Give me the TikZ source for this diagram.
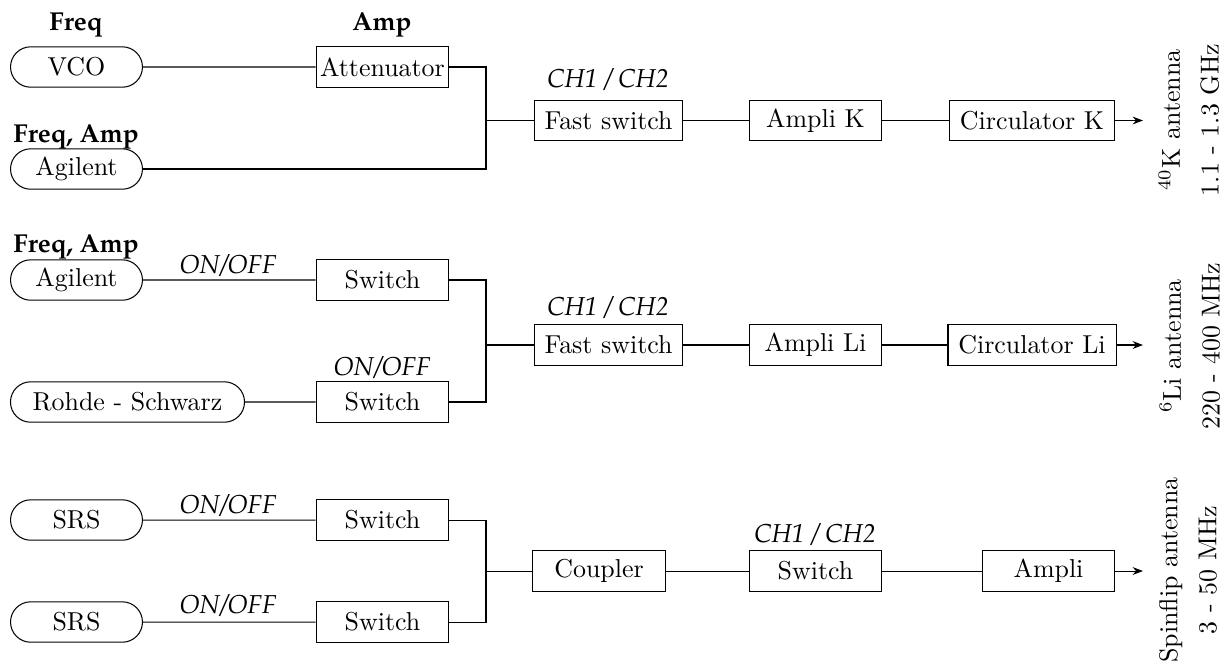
\documentclass[tikz,border=0pt]{standalone}
\usepackage[T1,TU]{fontenc}
\usetikzlibrary{shapes.misc,arrows.meta}
\newcommand\plbold{\fontencoding{T1}\fontfamily{ppl}\fontseries{b}\fontshape{n}\selectfont}
\newcommand\plit{\fontencoding{T1}\fontfamily{ppl}\fontseries{m}\fontshape{it}\selectfont}
\tikzset{
  blk/.style={draw, minimum width=51.3pt, minimum height=15.6pt, inner xsep=4pt, inner ysep=2pt},
  src/.style={draw, rounded rectangle, minimum width=57.6pt, minimum height=15.6pt, inner ysep=2pt},
  ctl/.style={anchor=base, font=\plbold},
  sw/.style={anchor=base, font=\plit},
  ant/.style={rotate=90, align=center},
  outarrow/.style={-{Stealth[length=4pt,width=3pt]}},
}
\begin{document}
\begin{tikzpicture}[x=0.386pt,y=-0.386pt]
\useasboundingbox (0,0) rectangle (1231,668);
% ---------- Row 1 : K ----------
\node[src] (vco) at (76.5,67) {VCO};
\node[blk, inner xsep=1.3pt] (att) at (382.5,67) {Attenuator};
\node[src] (agK) at (76.5,169) {Agilent};
\node[blk] (fsK) at (608.5,120.5) {Fast switch};
\node[blk] (amK) at (815.5,120.5) {Ampli K};
\node[blk] (ciK) at (1032,120.5) {Circulator K};
\coordinate (jK) at (486,120.5);
\coordinate (oK) at (1143,120.5);
\node[ctl] (lf1) at (76,30) {Freq};
\node[ctl] (la1) at (382,30) {Amp};
\node[ctl] (lfa1) at (76,142) {Freq, Amp};
\node[sw] (lc1) at (608,87) {CH1 / CH2};
\node[ant] (aK) at (1189,120) {$^{40}$K antenna\\[3pt]1.1 - 1.3 GHz};
\draw (vco) -- (att);
\draw (att.east) -| (jK);
\draw (agK.east) -| (jK);
\draw (jK) -- (fsK);
\draw (fsK) -- (amK);
\draw (amK) -- (ciK);
\draw[outarrow] (ciK.east) -- (oK);
% ---------- Row 2 : Li ----------
\node[src] (agL) at (76.5,280) {Agilent};
\node[src, minimum width=97pt] (rs) at (127.5,402) {Rohde - Schwarz};
\node[blk] (swL1) at (382.5,280) {Switch};
\node[blk] (swL2) at (382.5,402) {Switch};
\node[blk] (fsL) at (608.5,345) {Fast switch};
\node[blk] (amL) at (815.5,345) {Ampli Li};
\node[blk] (ciL) at (1032,345) {Circulator Li};
\coordinate (jL) at (486,345);
\coordinate (oL) at (1143,345);
\node[ctl] (lfa2) at (76,252) {Freq, Amp};
\node[sw] (lo1) at (228,273) {ON/OFF};
\node[sw] (lo2) at (382,375) {ON/OFF};
\node[sw] (lc2) at (608,315) {CH1 / CH2};
\node[ant] (aL) at (1190,346) {$^{6}$Li antenna\\[3pt]220 - 400 MHz};
\draw (agL) -- (swL1);
\draw (rs) -- (swL2);
\draw (swL1.east) -| (jL);
\draw (swL2.east) -| (jL);
\draw (jL) -- (fsL);
\draw (fsL) -- (amL);
\draw (amL) -- (ciL);
\draw[outarrow] (ciL.east) -- (oL);
% ---------- Row 3 : Spinflip ----------
\node[src] (srs1) at (76.5,520) {SRS};
\node[src] (srs2) at (76.5,622) {SRS};
\node[blk] (swS1) at (382.5,520) {Switch};
\node[blk] (swS2) at (382.5,622) {Switch};
\node[blk] (cp) at (599,571) {Coupler};
\node[blk] (swS) at (815.5,571) {Switch};
\node[blk] (amS) at (1048.5,571) {Ampli};
\coordinate (jS) at (486,571);
\coordinate (oS) at (1143,571);
\node[sw] (lo3) at (228,513) {ON/OFF};
\node[sw] (lo4) at (228,613) {ON/OFF};
\node[sw] (lc3) at (815,542) {CH1 / CH2};
\node[ant] (aS) at (1188,570) {Spinflip antenna\\[3pt]3 - 50 MHz};
\draw (srs1) -- (swS1);
\draw (srs2) -- (swS2);
\draw (swS1.east) -| (jS);
\draw (swS2.east) -| (jS);
\draw (jS) -- (cp);
\draw (cp) -- (swS);
\draw (swS) -- (amS);
\draw[outarrow] (amS.east) -- (oS);
\end{tikzpicture}
\end{document}
